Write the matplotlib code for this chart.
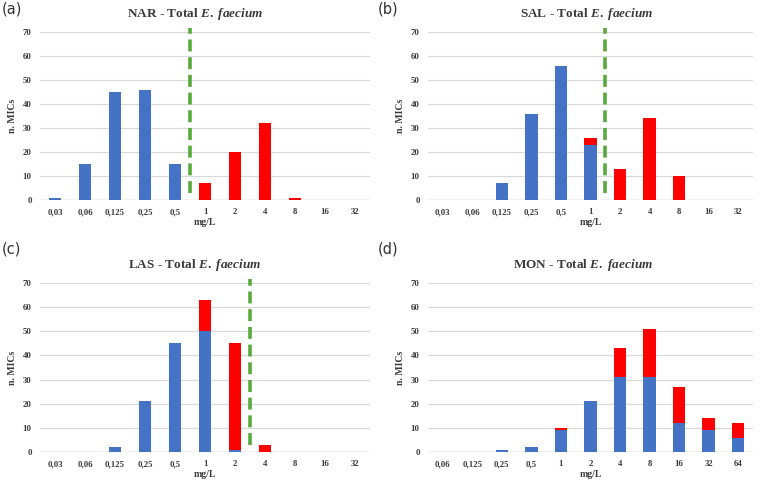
import matplotlib
matplotlib.use("Agg")
import matplotlib.pyplot as plt
import numpy as np

plt.rcParams["mathtext.fontset"] = "custom"
plt.rcParams["mathtext.rm"] = "Liberation Serif:bold"
plt.rcParams["mathtext.bf"] = "Liberation Serif:bold"
plt.rcParams["mathtext.it"] = "Liberation Serif:italic:bold"
plt.rcParams["mathtext.bfit"] = "Liberation Serif:italic:bold"

# ---- data ----
cats_std = ["0,03", "0,06", "0,125", "0,25", "0,5", "1", "2", "4", "8", "16", "32"]
cats_mon = ["0,06", "0,125", "0,25", "0,5", "1", "2", "4", "8", "16", "32", "64"]

nar_blue = [1, 15, 45, 46, 15, 0, 0, 0, 0, 0, 0]
nar_red = [0, 0, 0, 0, 0, 7, 20, 32, 1, 0, 0]
nar_bp = 4.5  # breakpoint between 0,5 and 1

sal_blue = [0, 0, 7, 36, 56, 23, 0, 0, 0, 0, 0]
sal_red = [0, 0, 0, 0, 0, 3, 13, 34, 10, 0, 0]
sal_bp = 5.5

las_blue = [0, 0, 2, 21, 45, 50, 1, 0, 0, 0, 0]
las_red = [0, 0, 0, 0, 0, 13, 44, 3, 0, 0, 0]
las_bp = 6.5

mon_blue = [0, 0, 1, 2, 9, 21, 31, 31, 12, 9, 6]
mon_red = [0, 0, 0, 0, 1, 0, 12, 20, 15, 5, 6]
mon_bp = None

bp_range = (3, 71.5)

BLUE = "#4472C4"
RED = "#FF0000"
GREEN = "#58AA3C"
GRID = "#D9D9D9"
TXT = "#3A3A3A"

W, H = 763, 482
fig = plt.figure(figsize=(W / 100, H / 100), dpi=100)

def px_axes(x0, x1, ytop, ybot):
    return fig.add_axes([x0 / W, 1 - ybot / H, (x1 - x0) / W, (ybot - ytop) / H])

panels = [
    ("NAR", cats_std, nar_blue, nar_red, nar_bp, (40, 370, 32, 200), (195, 14), "(a)", (2, 1)),
    ("SAL", cats_std, sal_blue, sal_red, sal_bp, (428, 753, 32, 200), (587, 14), "(b)", (378, 1)),
    ("LAS", cats_std, las_blue, las_red, las_bp, (40, 370, 283, 452), (195, 265), "(c)", (2, 242)),
    ("MON", cats_mon, mon_blue, mon_red, mon_bp, (428, 753, 283, 452), (583, 265), "(d)", (378, 242)),
]

serif = "Liberation Serif"

for name, cats, blue, red, bp, box, tpos, lab, lpos in panels:
    ax = px_axes(*box)
    x = np.arange(len(cats))
    ax.bar(x, blue, width=0.42, color=BLUE, zorder=3)
    ax.bar(x, red, width=0.42, bottom=blue, color=RED, zorder=3)
    ax.set_xlim(-0.5, len(cats) - 0.5)
    ax.set_ylim(0, 70)
    ax.set_yticks(np.arange(0, 71, 10))
    ax.set_xticks(x)
    ax.set_xticklabels(cats)
    for s in ax.spines.values():
        s.set_visible(False)
    ax.grid(axis="y", color=GRID, linewidth=0.9, zorder=0)
    ax.axhline(0, color="#C8C8C8", linewidth=1.0, zorder=2)
    ax.tick_params(length=0, labelsize=6.3, colors=TXT)
    ax.tick_params(axis="y", pad=6)
    ax.tick_params(axis="x", pad=6)
    for t in ax.get_xticklabels() + ax.get_yticklabels():
        t.set_fontfamily(serif)
        t.set_fontweight("bold")
    ax.set_xlabel("mg/L", fontfamily=serif, fontweight="bold", fontsize=7, color=TXT, labelpad=1.5)
    ax.set_ylabel("n. MICs", fontfamily=serif, fontweight="bold", fontsize=7, color=TXT, labelpad=4)
    if bp is not None:
        ax.plot([bp, bp], bp_range, color=GREEN, linewidth=2.6, linestyle=(0, (3.3, 1.6)),
                zorder=4, clip_on=False)
    fig.text(tpos[0] / W, 1 - tpos[1] / H,
             name + " - Total $\\mathit{E.\\ faecium}$",
             fontsize=9.5, fontfamily=serif, fontweight="bold", color=TXT,
             ha="center", va="center")
    fig.text(lpos[0] / W, 1 - lpos[1] / H, lab, fontsize=10.5, fontfamily="DejaVu Sans",
             color="#333333", ha="left", va="top")

fig.savefig("out.png", dpi=100)
